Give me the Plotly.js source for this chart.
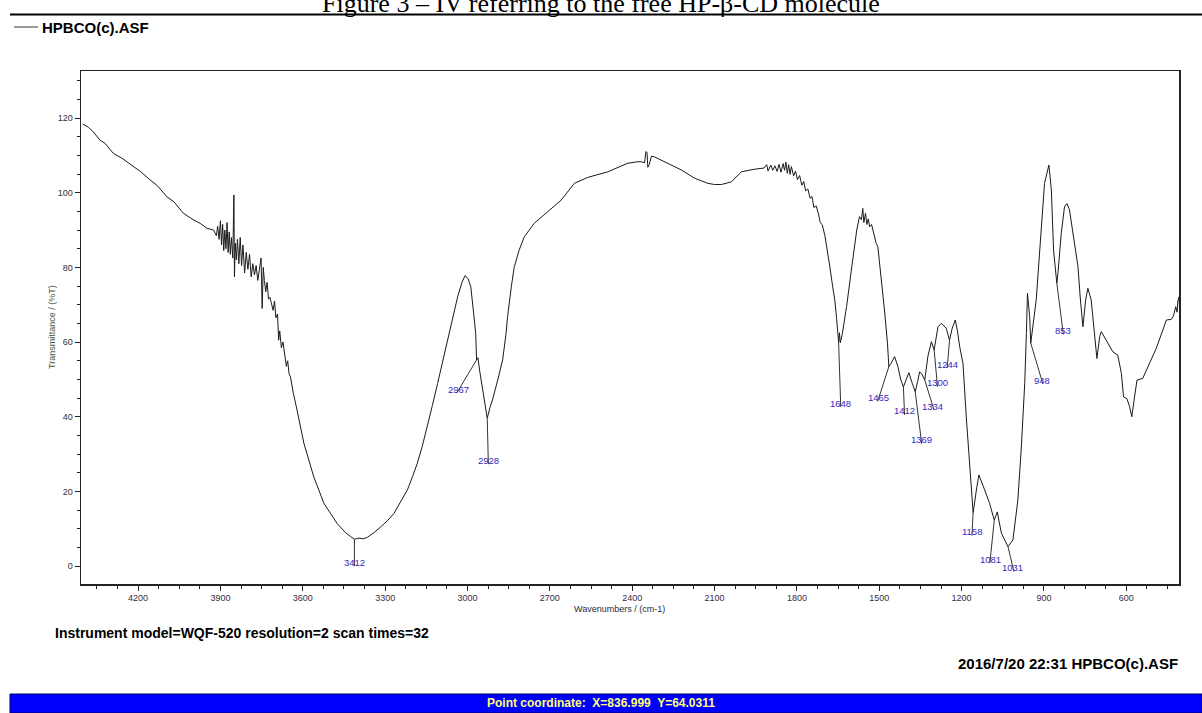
<!DOCTYPE html>
<html>
<head>
<meta charset="utf-8">
<script src="https://cdn.plot.ly/plotly-3.0.1.min.js"></script>
<style>
html,body{margin:0;padding:0;background:#fff;}
#chart{width:1202px;height:713px;}
</style>
</head>
<body>
<div id="chart"></div>
<script>
// ---------- DATA ----------
const wavenumber = [
4402,4380,4360,4339,4320,4305,4290,4260,4240,4217,4190,4156,4130,4095,4070,4035,4000,3974,3950,3925,
3915,3910,3905,3900,3896,3892,3888,3884,3880,3876,3872,3868,3864,3860,3855,3851,3849,3846,3842,3838,
3833,3828,3823,3818,3812,3806,3800,3794,3788,3782,3776,3770,3764,3758,3752,3748,3744,3740,3735,3730,
3725,3720,3715,3708,3703,3698,3692,3688,3684,3678,3672,3666,3660,3655,3650,3645,3635,3621,3596,3560,
3523,3475,3445,3426,3412,3395,3380,3365,3340,3316,3290,3268,3240,3219,3200,3183,3165,3146,3128,3109,
3090,3073,3055,3036,3020,3009,2998,2988,2978,2970,2967,2962,2955,2945,2935,2928,2918,2909,2890,2872,
2860,2854,2840,2830,2812,2793,2757,2708,2659,2611,2562,2489,2440,2416,2380,2367,2355,2350,2346,2343,
2338,2330,2319,2300,2270,2221,2173,2124,2100,2075,2039,2020,2002,1954,1930,1920,1910,1905,1895,1888,
1880,1872,1865,1858,1850,1845,1840,1835,1830,1825,1820,1812,1805,1798,1790,1782,1775,1768,1760,1752,
1745,1738,1730,1722,1715,1708,1698,1690,1680,1670,1662,1655,1650,1648,1645,1642,1635,1625,1619,1600,
1590,1582,1572,1565,1560,1556,1550,1545,1540,1535,1528,1520,1511,1505,1493,1481,1470,1465,1458,1444,
1432,1422,1412,1400,1392,1380,1369,1360,1353,1345,1334,1323,1310,1300,1286,1274,1256,1244,1235,1223,
1215,1207,1195,1183,1171,1158,1146,1137,1116,1098,1081,1070,1055,1040,1031,1013,995,983,970,964,
960,952,948,928,910,898,882,873,865,853,849,837,825,816,807,795,776,768,758,748,
740,728,719,707,697,691,667,649,631,618,610,598,588,580,570,561,540,515,491,467,
454,436,428,420,415,412,408,405,402,400
];
const transmittance = [
118.4,117.5,116.0,114.1,113.2,112.0,110.5,109.3,108.2,107.1,105.6,103.4,101.9,98.9,97.6,94.5,92.8,91.8,90.5,90.0,
88.5,91.0,87.5,92.5,86.0,91.5,84.5,90.0,85.0,92.0,84.0,89.5,83.5,88.0,82.5,99.4,77.5,86.5,82.0,87.5,
81.0,88.0,80.5,86.0,78.5,84.0,79.5,83.5,77.5,81.0,78.0,80.5,76.5,79.5,82.5,69.0,80.0,76.5,73.5,76.0,
71.5,72.0,70.5,68.5,71.0,66.5,67.5,60.5,63.0,58.5,60.0,56.0,53.5,55.0,51.5,50.7,46.5,41.8,32.9,23.9,
16.8,11.4,9.0,7.9,7.2,7.5,7.3,7.7,9.0,10.5,12.3,14.1,17.5,20.4,24.0,27.5,32.0,37.3,43.0,48.9,
55.0,60.5,66.5,72.1,76.0,77.8,77.0,74.8,68.0,62.3,55.2,55.8,52.0,47.0,42.5,39.6,42.5,44.5,49.8,55.2,
62.0,66.8,75.0,80.0,84.6,88.2,91.8,94.9,98.0,102.5,104.1,105.6,107.0,107.9,108.3,108.3,108.0,111.0,110.8,106.8,
107.5,109.8,109.6,108.9,107.9,106.1,103.9,102.5,102.2,102.2,102.9,104.2,105.6,106.3,106.5,106.6,107.5,105.8,107.4,106.0,
107.2,105.7,107.6,105.5,107.8,106.0,108.2,105.2,107.5,104.9,107.0,104.5,105.8,103.5,104.6,102.0,103.0,100.5,101.0,98.5,
99.0,96.0,96.5,94.5,92.0,91.5,88.5,85.0,80.2,75.0,71.3,66.0,62.0,60.0,62.5,59.8,62.0,66.5,69.5,80.2,
86.0,90.0,93.6,92.8,95.8,92.0,94.5,91.5,93.0,90.9,91.5,89.0,86.4,85.5,77.5,68.6,59.7,53.4,54.2,56.1,
53.4,50.0,48.0,50.5,51.8,49.0,46.7,49.5,52.0,51.5,49.8,56.1,60.1,57.9,64.1,65.0,63.7,60.5,63.5,65.9,
63.0,58.8,54.3,40.0,26.6,14.3,20.4,24.4,20.4,16.8,12.3,14.5,8.8,6.5,5.2,7.0,17.7,31.1,48.9,62.3,
73.1,66.8,59.7,71.4,89.1,102.5,107.4,100.7,84.6,75.7,78.4,89.1,96.3,97.1,95.4,89.1,80.2,72.1,64.1,71.3,
74.4,71.3,64.1,55.6,61.4,62.8,59.7,57.4,56.5,51.6,45.3,44.9,42.7,40.0,45.3,49.8,50.3,54.3,58.3,63.2,
65.9,66.1,67.0,69.5,68.0,71.0,72.1,67.5,73.5,72.0
];
const peakLabels = ["3412","2967","2928","1648","1465","1412","1369","1334","1300","1244","1158","1081","1031","948","853"];
const peakWavenumber = [3412,2967,2928,1648,1465,1412,1369,1334,1300,1244,1158,1081,1031,948,853];
const xTickValues = [4200,3900,3600,3300,3000,2700,2400,2100,1800,1500,1200,900,600];
const yTickValues = [0,20,40,60,80,100,120];

const seriesName = "HPBCO(c).ASF";
const figureTitle = "Figure 3 \u2013 IV referring to the free HP-\u03b2-CD molecule";
const instrumentText = "Instrument model=WQF-520 resolution=2 scan times=32";
const stampText = "2016/7/20 22:31 HPBCO(c).ASF";
const statusText = "Point coordinate:  X=836.999  Y=64.0311";
const xTitle = "Wavenumbers / (cm-1)";
const yTitle = "Transmittance / (%T)";

// ---------- LAYOUT CONFIG ----------
const L = 81, R = 1179, T = 71, B = 584;
const W = R - L, H = B - T;
const px = v => (v - L) / W;
const py = v => (B - v) / H;
// label placement offsets in pixels (dx right, dy down) relative to the marked point
const labelOffset = [[0,23],[-18,30],[1,42],[2,61],[-10,31],[1,24],[6,48],[8,26],[3,33],[-2,24],[-1,19],[-4,39],[5,21],[11,37],[6,47]];

const trace = {
  x: wavenumber, y: transmittance, type: 'scatter', mode: 'lines',
  name: seriesName, line: {color: '#1a1a1a', width: 1}, showlegend: false,
  hoverinfo: 'x+y'
};

const annotations = [];
const peakColor = '#3428c0';
peakWavenumber.forEach((w, i) => {
  const idx = wavenumber.indexOf(w);
  const yv = transmittance[idx];
  const [dx, dy] = labelOffset[i];
  const len = Math.hypot(dx, dy);
  const ext = (len + 6) / len;
  annotations.push({x: w, y: yv, xref: 'x', yref: 'y', text: ' ', showarrow: true,
    arrowhead: 0, arrowwidth: 1, arrowcolor: '#333', ax: dx * ext, ay: dy * ext, standoff: 0,
    font: {size: 1}});
  annotations.push({x: w, y: yv, xref: 'x', yref: 'y', text: peakLabels[i], showarrow: false,
    xshift: dx, yshift: -dy, font: {family: 'Arial, Liberation Sans', size: 9.5, color: peakColor}});
});

annotations.push(
  {xref: 'paper', yref: 'paper', x: px(601), y: py(3), text: figureTitle, showarrow: false,
   xanchor: 'center', yanchor: 'middle', font: {family: 'Liberation Serif, Times New Roman', size: 26, color: '#000'}},
  {xref: 'paper', yref: 'paper', x: px(40), y: py(27), text: '<b>' + seriesName + '</b>', showarrow: false,
   xanchor: 'left', yanchor: 'middle', font: {family: 'Liberation Sans, Arial', size: 15, color: '#000'}},
  {xref: 'paper', yref: 'paper', x: px(53), y: py(633), text: '<b>' + instrumentText + '</b>', showarrow: false,
   xanchor: 'left', yanchor: 'middle', font: {family: 'Liberation Sans, Arial', size: 14, color: '#000'}},
  {xref: 'paper', yref: 'paper', x: px(1180), y: py(663), text: '<b>' + stampText + '</b>', showarrow: false,
   xanchor: 'right', yanchor: 'middle', font: {family: 'Liberation Sans, Arial', size: 15, color: '#000'}},
  {xref: 'paper', yref: 'paper', x: px(601), y: py(703), text: '<b>' + statusText + '</b>', showarrow: false,
   xanchor: 'center', yanchor: 'middle', font: {family: 'Liberation Sans, Arial', size: 12, color: '#ffff70'}},
  {xref: 'paper', yref: 'paper', x: px(619), y: py(609), text: xTitle, showarrow: false,
   xanchor: 'center', yanchor: 'middle', font: {family: 'Liberation Sans, Arial', size: 9, color: '#2a2a3a'}},
  {xref: 'paper', yref: 'paper', x: px(52), y: py(327), text: yTitle, showarrow: false, textangle: -90,
   xanchor: 'center', yanchor: 'middle', font: {family: 'Liberation Sans, Arial', size: 9, color: '#3d5a3d'}}
);

const shapes = [
  {type: 'line', xref: 'paper', yref: 'paper', x0: px(10), x1: px(1202), y0: py(14.5), y1: py(14.5),
   line: {color: '#000', width: 2}},
  {type: 'line', xref: 'paper', yref: 'paper', x0: px(14), x1: px(38), y0: py(27), y1: py(27),
   line: {color: '#333', width: 1}},
  {type: 'rect', xref: 'paper', yref: 'paper', x0: px(10), x1: px(1202), y0: py(694), y1: py(713),
   fillcolor: '#0000ff', line: {color: '#000060', width: 1}}
];

const layout = {
  width: 1202, height: 713,
  margin: {l: L, r: 1202 - R, t: T, b: 713 - B, pad: 0},
  paper_bgcolor: '#ffffff', plot_bgcolor: '#ffffff',
  xaxis: {
    range: [4408, 408], autorange: false, showgrid: false, zeroline: false,
    showline: true, linecolor: '#222', linewidth: 1.5, mirror: true,
    ticks: 'outside', ticklen: 5, tickwidth: 1, tickcolor: '#222',
    tickmode: 'array', tickvals: xTickValues, ticktext: xTickValues.map(String),
    minor: {ticks: 'outside', ticklen: 3, tickwidth: 1, tickcolor: '#222', dtick: 75, tick0: 600},
    tickfont: {family: 'Liberation Sans, Arial', size: 9, color: '#3a2a40'}
  },
  yaxis: {
    range: [-4.8, 132.6], autorange: false, showgrid: false, zeroline: false,
    showline: true, linecolor: '#222', linewidth: 1.5, mirror: true,
    ticks: 'outside', ticklen: 5, tickwidth: 1, tickcolor: '#222',
    tickmode: 'array', tickvals: yTickValues, ticktext: yTickValues.map(String),
    minor: {ticks: 'outside', ticklen: 3, tickwidth: 1, tickcolor: '#222', dtick: 5, tick0: 0},
    tickfont: {family: 'Liberation Sans, Arial', size: 9, color: '#333'}
  },
  annotations: annotations,
  shapes: shapes,
  showlegend: false
};

Plotly.newPlot('chart', [trace], layout, {displayModeBar: false, staticPlot: true});
</script>
</body>
</html>
